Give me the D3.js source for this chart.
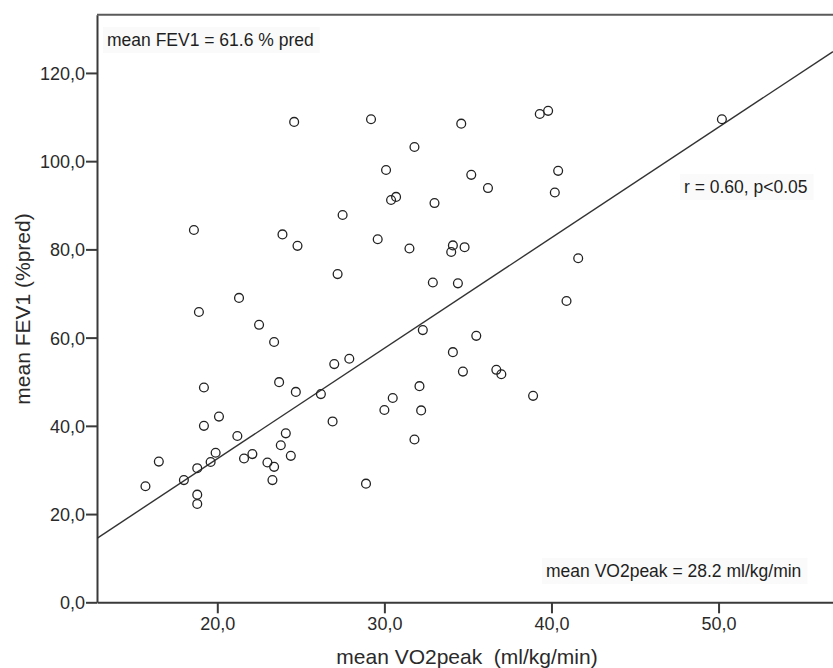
<!DOCTYPE html>
<html>
<head>
<meta charset="utf-8">
<script src="https://cdn.jsdelivr.net/npm/d3@7"></script>
<style>
  body { margin: 0; background: #fff; }
  svg { display: block; font-family: "Liberation Sans", Arial, sans-serif; }
</style>
</head>
<body>
<div id="chart"></div>
<script>
// mean VO2peak (ml/kg/min) per subject
var vo2peak = [24.6, 29.2, 31.8, 30.1, 30.4, 30.7, 27.5, 18.6, 23.9, 24.8, 29.6, 31.5,
  27.2, 21.3, 18.9, 22.5, 23.4, 39.3, 39.8, 50.2, 34.6, 35.2, 36.2, 40.4, 40.2, 33.0,
  34.1, 34.0, 34.8, 41.6, 32.9, 34.4, 40.9, 32.3, 35.5, 34.1, 34.7, 36.7, 37.0, 38.9,
  32.1, 32.2, 31.8, 27.0, 27.9, 23.7, 19.2, 24.7, 26.2, 26.9, 30.0, 30.5, 19.2, 20.1,
  21.2, 24.1, 23.8, 24.4, 22.1, 21.6, 23.0, 23.4, 23.3, 19.9, 19.6, 18.8, 16.5, 15.7,
  18.0, 18.8, 18.8, 28.9];
// mean FEV1 (%pred), same order
var fev1 = [108.9, 109.5, 103.2, 98.0, 91.2, 91.9, 87.8, 84.4, 83.4, 80.8, 82.3, 80.2,
  74.4, 69.0, 65.8, 62.9, 59.0, 110.7, 111.4, 109.5, 108.5, 96.9, 93.9, 97.8, 92.9, 90.5,
  80.9, 79.4, 80.5, 78.0, 72.5, 72.3, 68.3, 61.7, 60.4, 56.7, 52.3, 52.7, 51.7, 46.8,
  49.0, 43.5, 36.9, 54.0, 55.2, 49.9, 48.7, 47.7, 47.2, 41.0, 43.6, 46.3, 40.0, 42.1,
  37.7, 38.3, 35.6, 33.2, 33.6, 32.6, 31.7, 30.7, 27.7, 33.9, 31.8, 30.4, 31.9, 26.3,
  27.7, 24.4, 22.3, 26.9];

var xTicks = [20, 30, 40, 50];
var yTicks = [0, 20, 40, 60, 80, 100, 120];
var fitCoef = [-17.56, 2.505];   // intercept, slope of the drawn fit line
var notes = ["mean FEV1 = 61.6 % pred", "r = 0.60, p<0.05", "mean VO2peak = 28.2 ml/kg/min"];

var W = 833, H = 668;
var m = {left: 97, top: 14.7, bottom: 602.3, right: 833};

var svg = d3.select("#chart").append("svg").attr("width", W).attr("height", H);

var x = d3.scaleLinear().domain([12.8, 56.85]).range([m.left, m.right]);
var y = d3.scaleLinear().domain([0, 133.2]).range([m.bottom, m.top]);
var fmt = function(d){ return d3.format(".1f")(d).replace(".", ","); };

// axes
var gx = svg.append("g").attr("transform", "translate(0," + m.bottom + ")")
  .call(d3.axisBottom(x).tickValues(xTicks).tickFormat(fmt).tickSize(11).tickSizeOuter(0).tickPadding(4));
var gy = svg.append("g").attr("transform", "translate(" + m.left + ",0)")
  .call(d3.axisLeft(y).tickValues(yTicks).tickFormat(fmt).tickSize(11).tickSizeOuter(0).tickPadding(1));

svg.selectAll(".domain").attr("stroke", "#3a3a3a").attr("stroke-width", 2);
svg.selectAll(".tick line").attr("stroke", "#3a3a3a").attr("stroke-width", 2);
svg.selectAll(".tick text").attr("fill", "#2a2a2a").style("font-size", "18px")
  .style("font-family", "'Liberation Sans', Arial, sans-serif");
gy.selectAll(".tick text").attr("dy", "0.36em");

// top frame
svg.append("line").attr("x1", m.left).attr("x2", m.right).attr("y1", m.top).attr("y2", m.top)
  .attr("stroke", "#5a5a5a").attr("stroke-width", 2);

// fit line
svg.append("clipPath").attr("id", "plotclip").append("rect")
  .attr("x", m.left).attr("y", m.top).attr("width", m.right - m.left).attr("height", m.bottom - m.top);
var xd = x.domain();
svg.append("line").attr("clip-path", "url(#plotclip)")
  .attr("x1", x(xd[0])).attr("y1", y(fitCoef[0] + fitCoef[1] * xd[0]))
  .attr("x2", x(xd[1])).attr("y2", y(fitCoef[0] + fitCoef[1] * xd[1]))
  .attr("stroke", "#333").attr("stroke-width", 1.4);

// points
svg.append("g").selectAll("circle").data(vo2peak).join("circle")
  .attr("cx", function(d){ return x(d); })
  .attr("cy", function(d, i){ return y(fev1[i]); })
  .attr("r", 4.4)
  .attr("fill", "none").attr("stroke", "#222").attr("stroke-width", 1.3);

// annotation labels with faint boxes
var ann = [
  {t: notes[0], x: 107, y: 46},
  {t: notes[1], x: 684, y: 193},
  {t: notes[2], x: 546, y: 577}
];
ann.forEach(function(a){
  var g = svg.append("g");
  var box = g.append("rect").attr("fill", "#fafafa");
  var txt = g.append("text").attr("x", a.x).attr("y", a.y).text(a.t)
    .attr("fill", "#1e1e1e").style("font-size", "17.5px");
  var bb = txt.node().getBBox();
  box.attr("x", bb.x - 4).attr("y", bb.y - 3).attr("width", bb.width + 10).attr("height", bb.height + 6);
});

// axis titles
svg.append("text").attr("x", 467).attr("y", 664).attr("text-anchor", "middle")
  .attr("fill", "#2a2a2a").style("font-size", "21px").style("white-space", "pre")
  .text("mean VO2peak  (ml/kg/min)");
svg.append("text").attr("transform", "translate(30,309) rotate(-90)").attr("text-anchor", "middle")
  .attr("fill", "#2a2a2a").style("font-size", "21px")
  .text("mean FEV1 (%pred)");
</script>
</body>
</html>
